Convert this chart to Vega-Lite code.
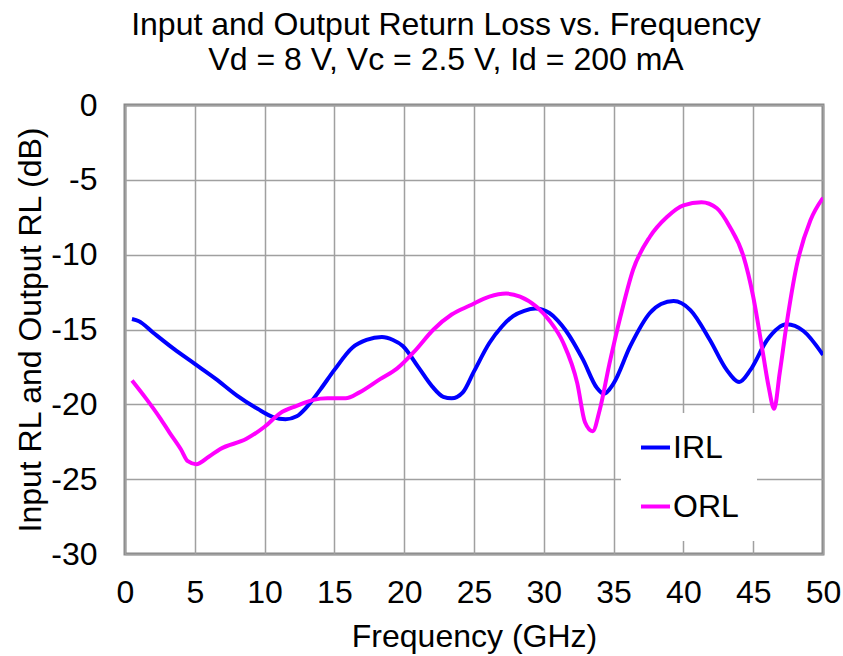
{
  "$schema": "https://vega.github.io/schema/vega-lite/v6.json",
  "width": 698,
  "height": 449,
  "autosize": {"type": "none"},
  "padding": {"left": 125, "top": 105, "right": 20, "bottom": 102},
  "background": "white",
  "title": {
    "text": ["Input and Output Return Loss vs. Frequency", "Vd = 8 V, Vc = 2.5 V, Id = 200 mA"],
    "fontSize": 32,
    "fontWeight": "normal",
    "font": "Liberation Sans",
    "color": "black",
    "lineHeight": 35,
    "anchor": "middle",
    "frame": "group",
    "dx": -28,
    "baseline": "alphabetic",
    "offset": -13
  },
  "config": {
    "view": {"stroke": "#888888", "strokeWidth": 3},
    "font": "Liberation Sans",
    "axis": {
      "domain": false,
      "ticks": false,
      "tickSize": 0,
      "grid": true,
      "gridColor": "#a0a0a0",
      "gridWidth": 1.5,
      "gridOpacity": 1,
      "labelFont": "Liberation Sans",
      "labelFontSize": 32,
      "labelColor": "black",
      "titleFont": "Liberation Sans",
      "titleFontSize": 32,
      "titleFontWeight": "normal",
      "titleColor": "black"
    }
  },
  "data": {
    "values": [
      {"series": "IRL", "f": 0.5, "rl": -14.3},
      {"series": "IRL", "f": 1.0, "rl": -14.45},
      {"series": "IRL", "f": 2.0, "rl": -15.2},
      {"series": "IRL", "f": 3.5, "rl": -16.3},
      {"series": "IRL", "f": 5.0, "rl": -17.3},
      {"series": "IRL", "f": 6.5, "rl": -18.3},
      {"series": "IRL", "f": 8.0, "rl": -19.4},
      {"series": "IRL", "f": 9.5, "rl": -20.3},
      {"series": "IRL", "f": 10.6, "rl": -20.85},
      {"series": "IRL", "f": 11.5, "rl": -21.0},
      {"series": "IRL", "f": 12.3, "rl": -20.8},
      {"series": "IRL", "f": 13.0, "rl": -20.2},
      {"series": "IRL", "f": 14.0, "rl": -19.0},
      {"series": "IRL", "f": 15.0, "rl": -17.7},
      {"series": "IRL", "f": 16.3, "rl": -16.2},
      {"series": "IRL", "f": 17.3, "rl": -15.7},
      {"series": "IRL", "f": 18.4, "rl": -15.5},
      {"series": "IRL", "f": 19.2, "rl": -15.7},
      {"series": "IRL", "f": 19.9, "rl": -16.1},
      {"series": "IRL", "f": 21.0, "rl": -17.5},
      {"series": "IRL", "f": 22.0, "rl": -18.8},
      {"series": "IRL", "f": 22.8, "rl": -19.5},
      {"series": "IRL", "f": 23.4, "rl": -19.6},
      {"series": "IRL", "f": 24.2, "rl": -19.2},
      {"series": "IRL", "f": 25.0, "rl": -17.8},
      {"series": "IRL", "f": 26.1, "rl": -15.9},
      {"series": "IRL", "f": 27.0, "rl": -14.8},
      {"series": "IRL", "f": 27.8, "rl": -14.1},
      {"series": "IRL", "f": 28.6, "rl": -13.75},
      {"series": "IRL", "f": 29.4, "rl": -13.6},
      {"series": "IRL", "f": 30.4, "rl": -13.9},
      {"series": "IRL", "f": 31.0, "rl": -14.4},
      {"series": "IRL", "f": 31.6, "rl": -15.1},
      {"series": "IRL", "f": 32.8, "rl": -17.0},
      {"series": "IRL", "f": 33.8, "rl": -18.9},
      {"series": "IRL", "f": 34.3, "rl": -19.3},
      {"series": "IRL", "f": 35.0, "rl": -18.6},
      {"series": "IRL", "f": 36.2, "rl": -16.1},
      {"series": "IRL", "f": 37.6, "rl": -13.9},
      {"series": "IRL", "f": 38.4, "rl": -13.3},
      {"series": "IRL", "f": 39.3, "rl": -13.1},
      {"series": "IRL", "f": 40.5, "rl": -13.7},
      {"series": "IRL", "f": 41.9, "rl": -15.7},
      {"series": "IRL", "f": 43.1, "rl": -17.7},
      {"series": "IRL", "f": 44.0, "rl": -18.5},
      {"series": "IRL", "f": 44.8, "rl": -17.7},
      {"series": "IRL", "f": 46.0, "rl": -15.7},
      {"series": "IRL", "f": 47.4, "rl": -14.65},
      {"series": "IRL", "f": 48.6, "rl": -15.1},
      {"series": "IRL", "f": 50.0, "rl": -16.7},
      {"series": "ORL", "f": 0.5, "rl": -18.4},
      {"series": "ORL", "f": 1.5, "rl": -19.6},
      {"series": "ORL", "f": 2.5, "rl": -20.9},
      {"series": "ORL", "f": 3.2, "rl": -21.9},
      {"series": "ORL", "f": 4.0, "rl": -23.0},
      {"series": "ORL", "f": 4.5, "rl": -23.8},
      {"series": "ORL", "f": 5.1, "rl": -24.0},
      {"series": "ORL", "f": 6.0, "rl": -23.5},
      {"series": "ORL", "f": 6.8, "rl": -23.0},
      {"series": "ORL", "f": 8.7, "rl": -22.3},
      {"series": "ORL", "f": 10.0, "rl": -21.5},
      {"series": "ORL", "f": 11.1, "rl": -20.6},
      {"series": "ORL", "f": 12.3, "rl": -20.1},
      {"series": "ORL", "f": 13.5, "rl": -19.7},
      {"series": "ORL", "f": 14.5, "rl": -19.6},
      {"series": "ORL", "f": 15.8, "rl": -19.6},
      {"series": "ORL", "f": 16.8, "rl": -19.2},
      {"series": "ORL", "f": 18.3, "rl": -18.3},
      {"series": "ORL", "f": 19.5, "rl": -17.6},
      {"series": "ORL", "f": 20.7, "rl": -16.5},
      {"series": "ORL", "f": 22.1, "rl": -15.0},
      {"series": "ORL", "f": 23.4, "rl": -14.0},
      {"series": "ORL", "f": 24.7, "rl": -13.4},
      {"series": "ORL", "f": 26.1, "rl": -12.8},
      {"series": "ORL", "f": 27.3, "rl": -12.6},
      {"series": "ORL", "f": 28.3, "rl": -12.8},
      {"series": "ORL", "f": 29.5, "rl": -13.5},
      {"series": "ORL", "f": 30.4, "rl": -14.4},
      {"series": "ORL", "f": 31.4, "rl": -15.9},
      {"series": "ORL", "f": 32.4, "rl": -18.6},
      {"series": "ORL", "f": 32.95, "rl": -21.2},
      {"series": "ORL", "f": 33.5, "rl": -21.8},
      {"series": "ORL", "f": 34.0, "rl": -20.4},
      {"series": "ORL", "f": 34.7, "rl": -17.3},
      {"series": "ORL", "f": 35.5, "rl": -14.1},
      {"series": "ORL", "f": 36.4, "rl": -11.0},
      {"series": "ORL", "f": 37.6, "rl": -8.8},
      {"series": "ORL", "f": 38.8, "rl": -7.5},
      {"series": "ORL", "f": 40.0, "rl": -6.7},
      {"series": "ORL", "f": 41.3, "rl": -6.5},
      {"series": "ORL", "f": 42.4, "rl": -6.9},
      {"series": "ORL", "f": 43.3, "rl": -8.1},
      {"series": "ORL", "f": 44.3, "rl": -10.1},
      {"series": "ORL", "f": 45.0, "rl": -12.8},
      {"series": "ORL", "f": 45.7, "rl": -16.6},
      {"series": "ORL", "f": 46.1, "rl": -18.8},
      {"series": "ORL", "f": 46.5, "rl": -20.3},
      {"series": "ORL", "f": 46.9, "rl": -17.9},
      {"series": "ORL", "f": 47.4, "rl": -14.6},
      {"series": "ORL", "f": 48.1, "rl": -10.8},
      {"series": "ORL", "f": 49.1, "rl": -7.7},
      {"series": "ORL", "f": 50.0, "rl": -6.2}
    ]
  },
  "mark": {"type": "line", "interpolate": "monotone", "strokeWidth": 4, "clip": true},
  "encoding": {
    "x": {
      "field": "f",
      "type": "quantitative",
      "scale": {"domain": [0, 50], "nice": false, "zero": false},
      "axis": {"values": [0, 5, 10, 15, 20, 25, 30, 35, 40, 45, 50], "title": "Frequency (GHz)", "labelPadding": 23, "titlePadding": 13, "labelFlush": false}
    },
    "y": {
      "field": "rl",
      "type": "quantitative",
      "scale": {"domain": [-30, 0], "nice": false, "zero": false},
      "axis": {"values": [-30, -25, -20, -15, -10, -5, 0], "labelExpr": "'' + datum.value", "title": "Input RL and Output RL (dB)", "labelPadding": 28, "titlePadding": 3, "labelFlush": false}
    },
    "color": {
      "field": "series",
      "type": "nominal",
      "scale": {"domain": ["IRL", "ORL"], "range": ["#0000ff", "#ff00ff"]},
      "legend": {
        "title": null,
        "orient": "none",
        "legendX": 496,
        "legendY": 308,
        "padding": 18,
        "fillColor": "white",
        "symbolType": "stroke",
        "symbolSize": 841,
        "symbolStrokeWidth": 4,
        "labelFontSize": 32,
        "labelFont": "Liberation Sans",
        "labelColor": "black",
        "labelOffset": 1,
        "rowPadding": 26
      }
    }
  }
}
